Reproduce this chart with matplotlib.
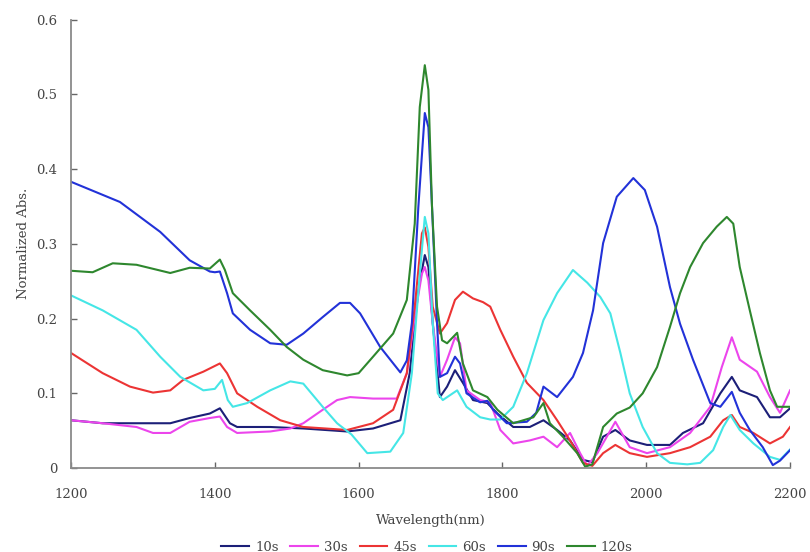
import matplotlib
matplotlib.use("Agg")
import matplotlib.pyplot as plt

# NIR absorbance spectra, normalized, at six exposure times
wl_10s = [1200, 1244, 1291, 1338, 1365, 1393, 1407, 1421, 1431, 1477, 1523, 1584, 1620, 1658,
          1671, 1683, 1692, 1697, 1703, 1713, 1723, 1734, 1745, 1759, 1779, 1793, 1815, 1838,
          1857, 1876, 1894, 1912, 1925, 1940, 1957, 1977, 2001, 2033, 2051, 2079, 2103, 2119,
          2130, 2154, 2172, 2186, 2200]
abs_10s = [0.064, 0.060, 0.060, 0.060, 0.067, 0.073, 0.080, 0.060, 0.055, 0.055, 0.053, 0.049, 0.053, 0.064,
           0.127, 0.238, 0.285, 0.269, 0.194, 0.095, 0.109, 0.131, 0.114, 0.091, 0.087, 0.073, 0.055, 0.055,
           0.064, 0.051, 0.037, 0.011, 0.008, 0.042, 0.051, 0.037, 0.031, 0.031, 0.047, 0.060, 0.100, 0.122,
           0.104, 0.095, 0.068, 0.068, 0.080]

wl_30s = [1200, 1244, 1291, 1314, 1338, 1356, 1365, 1393, 1407, 1417, 1431, 1477, 1505, 1523,
          1550, 1570, 1588, 1620, 1653, 1667, 1678, 1688, 1692, 1697, 1703, 1713, 1723, 1734,
          1741, 1750, 1769, 1783, 1797, 1815, 1838, 1857, 1876, 1894, 1908, 1918, 1932, 1957,
          1977, 2001, 2033, 2061, 2089, 2105, 2119, 2130, 2154, 2172, 2186, 2200]
abs_30s = [0.064, 0.060, 0.055, 0.047, 0.047, 0.057, 0.062, 0.067, 0.069, 0.055, 0.047, 0.049, 0.053, 0.060,
           0.078, 0.091, 0.095, 0.093, 0.093, 0.127, 0.202, 0.260, 0.269, 0.251, 0.194, 0.122, 0.145, 0.175,
           0.167, 0.104, 0.091, 0.088, 0.051, 0.033, 0.037, 0.042, 0.028, 0.047, 0.020, 0.003, 0.020, 0.062,
           0.028, 0.020, 0.028, 0.047, 0.082, 0.135, 0.175, 0.145, 0.129, 0.095, 0.074, 0.104]

wl_45s = [1200, 1244, 1282, 1314, 1338, 1356, 1384, 1407, 1417, 1431, 1459, 1491, 1523, 1584,
          1620, 1648, 1667, 1678, 1688, 1692, 1697, 1703, 1713, 1723, 1734, 1745, 1759, 1773,
          1783, 1797, 1815, 1834, 1857, 1876, 1894, 1912, 1925, 1940, 1957, 1977, 2001, 2033,
          2061, 2089, 2107, 2119, 2130, 2149, 2172, 2190, 2200]
abs_45s = [0.154, 0.127, 0.109, 0.101, 0.104, 0.118, 0.129, 0.140, 0.127, 0.100, 0.082, 0.064, 0.055, 0.051,
           0.060, 0.078, 0.127, 0.216, 0.314, 0.322, 0.296, 0.216, 0.180, 0.194, 0.225, 0.236, 0.227, 0.222,
           0.216, 0.185, 0.149, 0.114, 0.091, 0.064, 0.037, 0.007, 0.003, 0.020, 0.031, 0.020, 0.015, 0.020,
           0.028, 0.042, 0.064, 0.071, 0.055, 0.047, 0.033, 0.042, 0.055]

wl_60s = [1200, 1244, 1291, 1324, 1352, 1384, 1400, 1410, 1418, 1425, 1445, 1477, 1505, 1523,
          1550, 1570, 1590, 1612, 1644, 1662, 1674, 1685, 1692, 1697, 1703, 1710, 1717, 1737,
          1750, 1769, 1783, 1797, 1815, 1834, 1857, 1876, 1898, 1918, 1936, 1950, 1964, 1977,
          1995, 2015, 2033, 2057, 2075, 2093, 2107, 2117, 2130, 2149, 2172, 2186, 2200]
abs_60s = [0.231, 0.211, 0.185, 0.149, 0.122, 0.104, 0.106, 0.118, 0.091, 0.082, 0.087, 0.104, 0.116, 0.113,
           0.082, 0.060, 0.045, 0.020, 0.022, 0.047, 0.127, 0.260, 0.336, 0.314, 0.194, 0.100, 0.091, 0.104,
           0.082, 0.068, 0.065, 0.065, 0.082, 0.127, 0.198, 0.234, 0.265, 0.248, 0.229, 0.207, 0.154, 0.100,
           0.055, 0.020, 0.007, 0.005, 0.007, 0.024, 0.055, 0.071, 0.051, 0.033, 0.015, 0.011, 0.025]

wl_90s = [1200, 1268, 1324, 1365, 1393, 1400, 1407, 1417, 1425, 1449, 1477, 1500, 1523, 1550,
          1574, 1588, 1602, 1630, 1658, 1667, 1674, 1683, 1692, 1697, 1702, 1709, 1713, 1723,
          1734, 1741, 1750, 1769, 1779, 1787, 1806, 1834, 1847, 1857, 1876, 1898, 1912, 1926,
          1940, 1959, 1982, 1998, 2015, 2033, 2047, 2065, 2089, 2103, 2119, 2130, 2144, 2162,
          2176, 2186, 2200]
abs_90s = [0.383, 0.356, 0.316, 0.278, 0.263, 0.262, 0.263, 0.234, 0.207, 0.185, 0.167, 0.165, 0.180, 0.202,
           0.221, 0.221, 0.207, 0.162, 0.128, 0.144, 0.194, 0.349, 0.475, 0.456, 0.350, 0.194, 0.122, 0.127,
           0.149, 0.140, 0.100, 0.088, 0.090, 0.078, 0.060, 0.062, 0.074, 0.109, 0.095, 0.122, 0.154, 0.211,
           0.301, 0.363, 0.388, 0.372, 0.323, 0.242, 0.193, 0.145, 0.087, 0.082, 0.102, 0.074, 0.051, 0.028,
           0.004, 0.010, 0.024]

wl_120s = [1200, 1230, 1258, 1291, 1338, 1365, 1393, 1407, 1414, 1425, 1449, 1477, 1500, 1523,
           1550, 1584, 1600, 1620, 1648, 1667, 1678, 1685, 1692, 1697, 1702, 1709, 1716, 1723,
           1737, 1745, 1759, 1779, 1793, 1815, 1843, 1857, 1866, 1884, 1904, 1915, 1925, 1940,
           1959, 1977, 1995, 2015, 2033, 2047, 2061, 2079, 2098, 2112, 2121, 2130, 2144, 2158,
           2172, 2182, 2200]
abs_120s = [0.264, 0.262, 0.274, 0.272, 0.261, 0.268, 0.267, 0.279, 0.265, 0.234, 0.211, 0.185, 0.162, 0.145,
            0.131, 0.124, 0.127, 0.149, 0.180, 0.225, 0.327, 0.483, 0.539, 0.506, 0.350, 0.216, 0.171, 0.167,
            0.181, 0.140, 0.104, 0.095, 0.078, 0.060, 0.068, 0.087, 0.060, 0.042, 0.020, 0.002, 0.005, 0.055,
            0.073, 0.081, 0.100, 0.135, 0.189, 0.234, 0.269, 0.301, 0.323, 0.336, 0.327, 0.269, 0.211, 0.154,
            0.104, 0.082, 0.082]

series = [
    ("10s", wl_10s, abs_10s, "#1c1f78"),
    ("30s", wl_30s, abs_30s, "#ec45ec"),
    ("45s", wl_45s, abs_45s, "#ec3434"),
    ("60s", wl_60s, abs_60s, "#45e6e6"),
    ("90s", wl_90s, abs_90s, "#2232d8"),
    ("120s", wl_120s, abs_120s, "#2e872e"),
]

plt.rcParams["font.family"] = "DejaVu Serif"
text_col = "#444444"

fig = plt.figure(figsize=(8.10, 5.52), dpi=100)
ax = fig.add_axes([0.0877, 0.152, 0.8877, 0.8125])

for name, x, y, col in series:
    ax.plot(x, y, color=col, lw=1.5, label=name)

ax.set_xlim(1200, 2200)
ax.set_ylim(0, 0.6)
ax.set_xticks([1200, 1400, 1600, 1800, 2000, 2200])
ax.set_yticks([0, 0.1, 0.2, 0.3, 0.4, 0.5, 0.6])
ax.set_yticklabels(["0", "0.1", "0.2", "0.3", "0.4", "0.5", "0.6"])

for side in ["top", "right"]:
    ax.spines[side].set_visible(False)
for side in ["left", "bottom"]:
    ax.spines[side].set_color("#8a8a8a")
    ax.spines[side].set_linewidth(1.3)

ax.tick_params(direction="in", length=4, width=1, color="#666666",
               labelsize=9.5, labelcolor=text_col)
ax.tick_params(axis="x", pad=14)
ax.tick_params(axis="y", pad=10)

ax.set_xlabel("Wavelength(nm)", fontsize=9.5, color=text_col, labelpad=10)
ax.set_ylabel("Normalized Abs.", fontsize=9.5, color=text_col, labelpad=4)

ax.legend(loc="upper center", bbox_to_anchor=(0.495, -0.135), ncol=6, frameon=False,
          fontsize=9.5, handlelength=2.1, columnspacing=0.9, handletextpad=0.45,
          labelcolor=text_col)

fig.savefig("out.png", dpi=100, facecolor="white")
